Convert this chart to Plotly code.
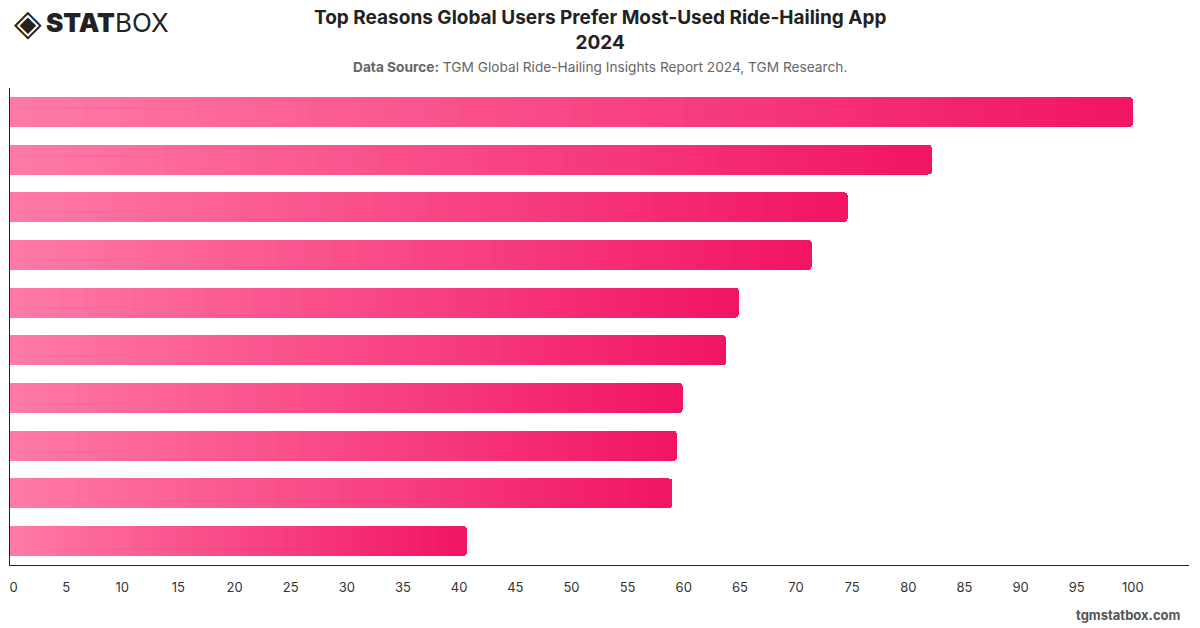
import plotly.graph_objects as go

# ---- data ----
ranks = ["1", "2", "3", "4", "5", "6", "7", "8", "9", "10"]
values = [100, 82.1, 74.6, 71.4, 64.9, 63.8, 59.9, 59.4, 59.0, 40.7]
x_ticks = list(range(0, 105, 5))
x_tick_labels = ["\u00a0\u00a00"] + [str(v) for v in x_ticks[1:]]

title_text = "Top Reasons Global Users Prefer Most-Used Ride-Hailing App<br>2024"
source_text = "<b>Data Source:</b> TGM Global Ride-Hailing Insights Report 2024, TGM Research."

# gradient colours (left -> right of each bar)
c_start = (255, 122, 168)
c_end = (241, 20, 100)
N_SEG = 60


def lerp(a, b, t):
    return tuple(round(a[i] + (b[i] - a[i]) * t) for i in range(3))


fig = go.Figure()
for k in range(N_SEG):
    t = (k + 0.5) / N_SEG
    r, g, b = lerp(c_start, c_end, t)
    fig.add_trace(go.Bar(
        y=ranks,
        x=[v / N_SEG for v in values],
        orientation="h",
        marker=dict(color=f"rgb({r},{g},{b})", line=dict(width=0)),
        hoverinfo="skip",
        showlegend=False,
    ))

fig.update_layout(
    barmode="stack",
    barcornerradius=4,
    bargap=0.37,
    width=1200,
    height=628,
    margin=dict(l=10, r=11, t=88, b=63, autoexpand=False),
    paper_bgcolor="white",
    plot_bgcolor="white",
    showlegend=False,
    font=dict(family="Inter, Roboto, sans-serif", color="#333"),
    xaxis=dict(
        range=[0, 105],
        tickvals=x_ticks,
        ticktext=x_tick_labels,
        showgrid=False,
        zeroline=False,
        showline=True,
        linecolor="#222",
        linewidth=1,
        ticks="outside",
        ticklen=10,
        tickcolor="rgba(0,0,0,0)",
        tickfont=dict(size=13, color="#333"),
        automargin=False,
    ),
    yaxis=dict(
        categoryorder="array",
        categoryarray=ranks,
        autorange="reversed",
        showticklabels=False,
        showgrid=False,
        zeroline=False,
        showline=True,
        linecolor="#222",
        linewidth=1,
        ticks="",
        automargin=False,
    ),
    annotations=[
        dict(text=f"<b>{title_text}</b>", x=0.5, y=1, xref="paper", yref="paper",
             xanchor="center", yanchor="top", showarrow=False,
             font=dict(size=19, color="#222", family="Inter, sans-serif"),
             yshift=88 - 4),
        dict(text=source_text, x=0.5, y=1, xref="paper", yref="paper",
             xanchor="center", yanchor="middle", showarrow=False,
             font=dict(size=13.7, color="#666", family="Inter, sans-serif"),
             yshift=88 - 67),
        dict(text="◈", x=0, y=1, xref="paper", yref="paper",
             xanchor="left", yanchor="middle", showarrow=False,
             font=dict(size=36, color="#222", family="DejaVu Sans"),
             xshift=2, yshift=88 - 22),
        dict(text="<span style=\"font-weight:900\">STAT</span>BOX", x=0, y=1,
             xref="paper", yref="paper",
             xanchor="left", yanchor="middle", showarrow=False,
             font=dict(size=26, color="#222", family="Inter, sans-serif"),
             xshift=34, yshift=88 - 22),
        dict(text="<b>tgmstatbox.com</b>", x=1, y=0, xref="paper", yref="paper",
             xanchor="right", yanchor="middle", showarrow=False,
             font=dict(size=13, color="#555", family="Inter, sans-serif"),
             xshift=-6, yshift=-(615 - 565)),
    ],
)

fig.write_html("out.html")
